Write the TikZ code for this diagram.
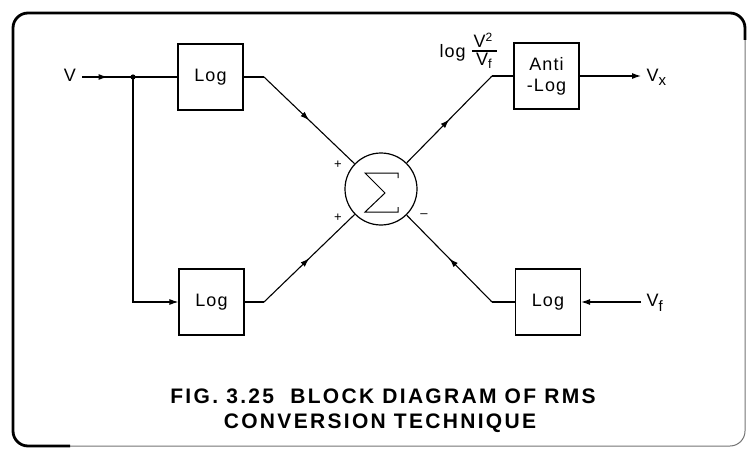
\documentclass[tikz,border=0pt]{standalone}
\usepackage{fontspec}
\setmainfont{Liberation Sans}
\newfontfamily\lblfont[LetterSpace=6]{Liberation Sans}
\newfontfamily\capfont[LetterSpace=11]{Liberation Sans}
\usetikzlibrary{arrows.meta,decorations.markings}
\begin{document}
\begin{tikzpicture}[x=1pt,y=-1pt,
  line width=1.1pt,
  box/.style={draw, line width=1.2pt, minimum width=65pt, minimum height=66pt, inner sep=0pt, align=center, font=\lblfont\fontsize{18}{21}\selectfont},
  lbl/.style={font=\lblfont\fontsize{18}{19}\selectfont, inner sep=0pt},
  sgn/.style={font=\fontsize{13}{13}\selectfont, inner sep=0pt},
  tip/.style={-{Latex[length=9pt,width=6pt]}},
  midarrow/.style={postaction={decorate},decoration={markings,mark=at position 0.5 with {\arrow{Latex[length=9pt,width=6pt]}}}},
  captext/.style={font=\capfont\bfseries\fontsize{21}{23}\selectfont, inner sep=0pt}
]
\useasboundingbox (0,0) rectangle (748,452);
% frame
\draw[line width=1pt, black!55, rounded corners=15pt] (13,13) rectangle (745,446);
\draw[line width=2.8pt, rounded corners=15pt] (70,446) -- (13,446) -- (13,13) -- (745,13) -- (745,40);

% nodes
\node[box] (logA) at (210.5,77) {Log};
\node[box] (logB) at (211.5,302) {Log};
\node[box] (anti) at (546.5,76) {Anti\\-Log};
\node[box] (logC) at (548,302) {Log};
\node[draw, circle, line width=1.2pt, minimum size=72pt, inner sep=0pt] (sig) at (381,189) {};
\draw[line width=1pt] (398,178) -- (398,173) -- (365,173) -- (385,193) -- (365,212) -- (398,212) -- (398,207);

\node[lbl] (V) at (70,75) {V};
\node[lbl, anchor=west] (Vx) at (646,77) {V\raisebox{-4pt}{\fontsize{15}{15}\selectfont x}};
\node[lbl, anchor=west] (Vf) at (646,303) {V\raisebox{-5pt}{\fontsize{15}{15}\selectfont f}};
\node[lbl, anchor=base west] (loglbl) at (439,58) {log};
\node[lbl] (num) at (483,40) {V\raisebox{6pt}{\fontsize{12}{12}\selectfont 2}};
\node[lbl] (den) at (484,61) {V\raisebox{-3pt}{\fontsize{13}{13}\selectfont f}};
\draw[line width=1.3pt] (472,51) -- (497,51);

\coordinate (vin) at (82,77);
\coordinate (j) at (133,77);
\coordinate (jb) at (133,302);
\coordinate (ka) at (264,77);
\coordinate (kb) at (264,302);
\coordinate (kc) at (492,76);
\coordinate (kd) at (492,302);
\coordinate (vxe) at (641,76);
\coordinate (vfs) at (641,302);

% connectors
\draw[midarrow] (vin) -- (j);
\draw (j) -- (logA.west);
\fill (j) circle (2.6pt);
\draw[tip] (j) -- (jb) -- (logB.west);
\draw (logA.east) -- (ka);
\draw[midarrow] (ka) -- (sig);
\draw[midarrow] (kb) -- (sig);
\draw (logB.east) -- (kb);
\draw[midarrow] (sig) -- (kc);
\draw (kc) -- (anti.west);
\draw[tip] (anti.east) -- (vxe);
\draw[tip] (vfs) -- (logC.east);
\draw (logC.west) -- (kd);
\draw[midarrow] (kd) -- (sig);

% signs
\node[sgn] (p1) at (338,165) {+};
\node[sgn] (p2) at (338,218) {+};
\node[sgn] (m1) at (424,216) {--};

% caption
\node[captext] (c1) at (383,396) {FIG. 3.25\ \ BLOCK DIAGRAM OF RMS};
\node[captext] (c2) at (380,423) {CONVERSION TECHNIQUE};
\end{tikzpicture}
\end{document}
